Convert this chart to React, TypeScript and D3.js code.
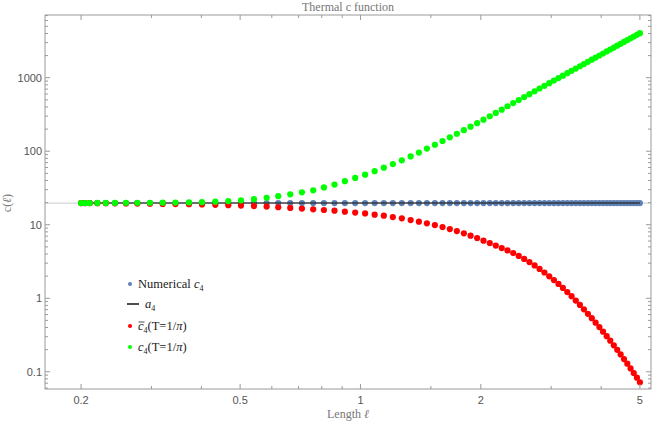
import * as d3 from 'd3'

const lengths = [
  0.2, 0.2047, 0.2103, 0.2197, 0.2306, 0.2432, 0.2591, 0.2766, 0.2975, 0.32, 0.3445, 0.3724, 0.4014,
  0.4334, 0.467, 0.5024, 0.5414, 0.5825, 0.6227, 0.6673, 0.7137, 0.7616, 0.8101, 0.861, 0.914, 0.97,
  1.027, 1.085, 1.144, 1.205, 1.269, 1.335, 1.4, 1.466, 1.535, 1.604, 1.673, 1.742, 1.814, 1.885,
  1.958, 2.031, 2.106, 2.18, 2.256, 2.332, 2.41, 2.488, 2.567, 2.646, 2.726, 2.805, 2.885, 2.966,
  3.047, 3.128, 3.209, 3.291, 3.373, 3.456, 3.539, 3.622, 3.706, 3.79, 3.874, 3.959, 4.044, 4.13,
  4.215, 4.302, 4.388, 4.475, 4.562, 4.65, 4.738, 4.826, 4.915, 5.0,
]

const numericalC4 = [
  19.74, 19.74, 19.74, 19.74, 19.74, 19.74, 19.74, 19.74, 19.74, 19.74, 19.74, 19.74, 19.74,
  19.74, 19.74, 19.74, 19.74, 19.74, 19.74, 19.74, 19.74, 19.74, 19.74, 19.74, 19.74, 19.74,
  19.74, 19.74, 19.74, 19.74, 19.74, 19.74, 19.74, 19.74, 19.74, 19.74, 19.74, 19.74, 19.74,
  19.74, 19.74, 19.74, 19.74, 19.74, 19.74, 19.74, 19.74, 19.74, 19.74, 19.74, 19.74, 19.74,
  19.74, 19.74, 19.74, 19.74, 19.74, 19.74, 19.74, 19.74, 19.74, 19.74, 19.74, 19.74, 19.74,
  19.74, 19.74, 19.74, 19.74, 19.74, 19.74, 19.74, 19.74, 19.74, 19.74, 19.74, 19.74, 19.74,
]

const a4 = 19.74

// c-bar_4 (T = 1/pi), red
const cBarThermal = [
  19.73, 19.72, 19.71, 19.68, 19.64, 19.58, 19.52, 19.43, 19.32, 19.2, 19.1, 19.0, 18.85,
  18.65, 18.45, 18.2, 17.95, 17.65, 17.3, 16.95, 16.6, 16.22, 15.88, 15.52, 15.08, 14.65,
  14.25, 13.72, 13.3, 12.73, 12.22, 11.59, 11.02, 10.44, 9.91, 9.3, 8.74, 8.21, 7.64, 7.11,
  6.59, 6.08, 5.64, 5.2, 4.82, 4.48, 4.12, 3.77, 3.43, 3.11, 2.8, 2.51, 2.24, 1.99,
  1.77, 1.565, 1.382, 1.215, 1.066, 0.931, 0.812, 0.707, 0.615, 0.536, 0.466, 0.405, 0.351, 0.305,
  0.265, 0.229, 0.199, 0.172, 0.149, 0.129, 0.111, 0.096, 0.083, 0.072,
]

// c_4 (T = 1/pi), green
const cThermal = [
  19.75, 19.76, 19.77, 19.78, 19.8, 19.82, 19.85, 19.88, 19.92, 19.98, 20.02, 20.12, 20.3,
  20.6, 21.0, 21.5, 22.3, 23.3, 24.5, 25.9, 27.6, 29.4, 32.2, 35.2, 39.2, 43.4,
  48.0, 53.6, 59.8, 66.8, 75.2, 85.0, 96.0, 108.5, 122.5, 137.8, 154.5, 173, 193.5, 216,
  241, 269, 299, 332, 368, 409, 452, 497, 546, 598, 654, 713, 776, 843,
  914, 989, 1067, 1151, 1240, 1333, 1432, 1535, 1644, 1758, 1878, 2004, 2136, 2276,
  2419, 2572, 2729, 2895, 3067, 3247, 3435, 3631, 3835, 4038,
]

const xMajorTicks = [0.2, 0.5, 1, 2, 5]
const xMinorTicks = [0.3, 0.4, 0.6, 0.7, 0.8, 0.9, 1.5, 3, 4]
const yMajorTicks = [0.1, 1, 10, 100, 1000]

const serif = '"Liberation Serif", "DejaVu Serif", serif'
const sans = '"Liberation Sans", Arial, sans-serif'

export default function App() {
  const width = 654
  const height = 426
  const margin = { top: 15, right: 3, bottom: 37, left: 45 }
  const left = margin.left
  const right = width - margin.right
  const top = margin.top
  const bottom = height - margin.bottom

  const x = d3.scaleLog().domain([0.1625, 5.33]).range([left, right])
  const y = d3.scaleLog().domain([0.0583, 7130]).range([bottom, top])

  // minor log ticks on y (2..9 in each decade)
  const yMinorTicks: number[] = []
  for (let e = -2; e <= 3; e++) {
    for (let k = 2; k <= 9; k++) {
      const v = k * Math.pow(10, e)
      if (v > 0.0583 && v < 7130) yMinorTicks.push(v)
    }
  }

  const frame = '#9a9a9a'
  const major = 5
  const minor = 3

  const blue = '#5E81B5'
  const red = '#FF0000'
  const green = '#00FF00'
  const r = 3.1

  const legendX = 130
  const legendRows = [284, 304, 326, 347]

  return (
    <div style={{ position: 'absolute', left: 0, top: 0 }}>
      <svg width={width} height={height} style={{ display: 'block', background: '#fff' }}>
        {/* title */}
        <text x={(left + right) / 2} y={11} textAnchor="middle" fontFamily={serif} fontSize={12} fill="#777">
          Thermal c function
        </text>

        {/* a4 reference line across the frame */}
        <line x1={left} x2={right} y1={y(a4)} y2={y(a4)} stroke="#d6d6d6" strokeWidth={1.2} />

        {/* numerical c4 */}
        {lengths.map((l, i) => (
          <circle key={'b' + i} cx={x(l)} cy={y(numericalC4[i])} r={r} fill={blue} />
        ))}

        {/* a4 */}
        <line
          x1={x(lengths[0])}
          x2={x(lengths[lengths.length - 1])}
          y1={y(a4)}
          y2={y(a4)}
          stroke="#2a2a2a"
          strokeWidth={1.6}
          strokeOpacity={0.85}
        />

        {lengths.map((l, i) => (
          <circle key={'r' + i} cx={x(l)} cy={y(cBarThermal[i])} r={r} fill={red} />
        ))}
        {lengths.map((l, i) => (
          <circle key={'g' + i} cx={x(l)} cy={y(cThermal[i])} r={r} fill={green} />
        ))}

        {/* frame */}
        <rect x={left} y={top} width={right - left} height={bottom - top} fill="none" stroke={frame} strokeWidth={1} />

        {/* x ticks */}
        {xMajorTicks.map(t => (
          <g key={'xm' + t}>
            <line x1={x(t)} x2={x(t)} y1={bottom} y2={bottom - major} stroke={frame} />
            <line x1={x(t)} x2={x(t)} y1={top} y2={top + major} stroke={frame} />
            <text x={x(t)} y={404} textAnchor="middle" fontFamily={sans} fontSize={11} fill="#555">
              {t}
            </text>
          </g>
        ))}
        {xMinorTicks.map(t => (
          <g key={'xn' + t}>
            <line x1={x(t)} x2={x(t)} y1={bottom} y2={bottom - minor} stroke={frame} />
            <line x1={x(t)} x2={x(t)} y1={top} y2={top + minor} stroke={frame} />
          </g>
        ))}

        {/* y ticks */}
        {yMajorTicks.map(t => (
          <g key={'ym' + t}>
            <line x1={left} x2={left + major} y1={y(t)} y2={y(t)} stroke={frame} />
            <line x1={right} x2={right - major} y1={y(t)} y2={y(t)} stroke={frame} />
            <text x={left - 3} y={y(t) + 4} textAnchor="end" fontFamily={sans} fontSize={11} fill="#555">
              {t}
            </text>
          </g>
        ))}
        {yMinorTicks.map(t => (
          <g key={'yn' + t}>
            <line x1={left} x2={left + minor} y1={y(t)} y2={y(t)} stroke={frame} />
            <line x1={right} x2={right - minor} y1={y(t)} y2={y(t)} stroke={frame} />
          </g>
        ))}

        {/* axis labels */}
        <text x={(left + right) / 2} y={418} textAnchor="middle" fontFamily={serif} fontSize={12} fill="#777">
          Length <tspan fontStyle="italic">ℓ</tspan>
        </text>
        <text
          transform={`translate(11,${y(a4)}) rotate(-90)`}
          textAnchor="middle"
          fontFamily={serif}
          fontSize={12}
          fill="#777"
        >
          c(<tspan fontStyle="italic">ℓ</tspan>)
        </text>

        {/* legend */}
        <g fontFamily={serif} fontSize={12.5} fill="#222">
          <circle cx={legendX} cy={legendRows[0]} r={2} fill={blue} />
          <text x={legendX + 8} y={legendRows[0] + 4}>
            Numerical <tspan fontStyle="italic">c</tspan>
            <tspan fontSize={8} dy={3}>4</tspan>
          </text>

          <line x1={legendX - 3} x2={legendX + 9} y1={legendRows[1]} y2={legendRows[1]} stroke="#111" strokeWidth={1.5} />
          <text x={legendX + 15} y={legendRows[1] + 4}>
            <tspan fontStyle="italic">a</tspan>
            <tspan fontSize={8} dy={3}>4</tspan>
          </text>

          <circle cx={legendX} cy={legendRows[2]} r={2} fill={red} />
          <text x={legendX + 8} y={legendRows[2] + 4}>
            <tspan fontStyle="italic">c</tspan>
            <tspan fontSize={8} dy={3}>4</tspan>
            <tspan dy={-3}>(T=1/</tspan>
            <tspan fontStyle="italic">π</tspan>
            <tspan>)</tspan>
          </text>
          <line x1={legendX + 8.5} x2={legendX + 14.5} y1={legendRows[2] - 4} y2={legendRows[2] - 4} stroke="#222" strokeWidth={0.8} />

          <circle cx={legendX} cy={legendRows[3]} r={2} fill={green} />
          <text x={legendX + 8} y={legendRows[3] + 4}>
            <tspan fontStyle="italic">c</tspan>
            <tspan fontSize={8} dy={3}>4</tspan>
            <tspan dy={-3}>(T=1/</tspan>
            <tspan fontStyle="italic">π</tspan>
            <tspan>)</tspan>
          </text>
        </g>
      </svg>
    </div>
  )
}
